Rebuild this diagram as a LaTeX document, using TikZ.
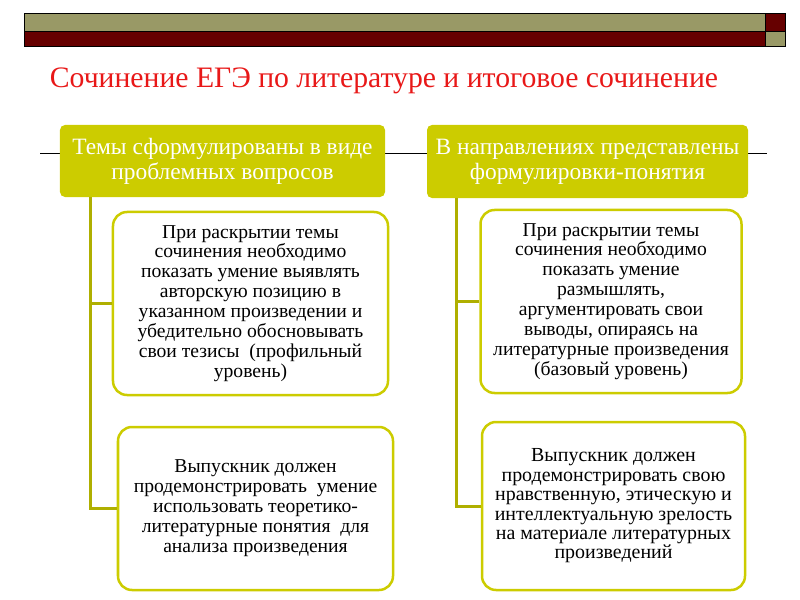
\documentclass[tikz,border=0pt]{standalone}
\usepackage{fontspec}
\setmainfont{Liberation Serif}
\usepackage{xcolor}
\definecolor{barolive}{RGB}{153,153,102}
\definecolor{bardark}{RGB}{102,0,0}
\definecolor{headfill}{RGB}{204,204,0}
\definecolor{linkolive}{RGB}{175,175,0}
\definecolor{titlered}{RGB}{232,24,24}
\usepackage{tikz}

\begin{document}
\begin{tikzpicture}[x=1bp,y=-1bp,
    head/.style={fill=headfill,rounded corners=5bp,text=white,align=center,
      inner sep=0pt,font=\fontsize{23.5}{25}\selectfont},
    item/.style={draw=headfill,line width=2.5bp,fill=white,rounded corners=14bp,
      align=center,inner sep=0pt,font=\fontsize{19.7}{20}\selectfont},
    link/.style={draw=linkolive,line width=3bp}]
    \useasboundingbox (0,0) rectangle (800,600);
    \fill[barolive] (24,13) rectangle (765,31);
    \fill[bardark] (24,31) rectangle (765,46);
    \fill[bardark] (765,13) rectangle (785,31);
    \fill[barolive] (765,31) rectangle (785,46);
    \draw[black,thin] (24,13) rectangle (765,46) (24,31) -- (785,31);
    \draw[black,thin] (765,13) rectangle (785,46);
    \node[text=titlered,anchor=base,font=\fontsize{29.8}{32}\selectfont] (title) at (384,88)
        {Сочинение ЕГЭ по литературе и итоговое сочинение};
    \coordinate (rl) at (40,153);
    \coordinate (rr) at (767,153);
    \draw[black,thin] (rl) -- (rr);
    \node[head,minimum width=325bp,minimum height=72bp] (hl) at (222.5,161)
        {Темы сформулированы в виде\\проблемных вопросов};
    \node[head,minimum width=321bp,minimum height=73bp] (hr) at (587.5,161.5)
        {В направлениях представлены\\формулировки-понятия};
    \node[item,minimum width=275bp,minimum height=183bp] (l1) at (250.5,303.5)
        {При раскрытии темы\\сочинения необходимо\\показать умение выявлять\\авторскую позицию в\\указанном произведении и\\убедительно обосновывать\\свои тезисы\ \ (профильный\\уровень)};
    \node[item,minimum width=275bp,minimum height=163bp] (l2) at (255.5,508.5)
        {Выпускник должен\\продемонстрировать\ \ умение\\использовать теоретико-\\литературные понятия\ \ для\\анализа произведения};
    \node[item,minimum width=261bp,minimum height=183bp] (r1) at (611,301.5)
        {При раскрытии темы\\сочинения необходимо\\показать умение\\размышлять,\\аргументировать свои\\выводы, опираясь на\\литературные произведения\\(базовый уровень)};
    \node[item,minimum width=263bp,minimum height=168bp,font=\fontsize{20}{19.5}\selectfont] (r2) at (613.5,506)
        {Выпускник должен\\продемонстрировать свою\\нравственную, этическую и\\интеллектуальную зрелость\\на материале литературных\\произведений};
    \coordinate (lx) at ([xshift=31bp]hl.south west);
    \coordinate (rx) at ([xshift=30bp]hr.south west);
    \draw[link] (lx) |- (l2.west);
    \draw[link] (l1.west) -- (l1.west -| lx);
    \draw[link] (rx) |- (r2.west);
    \draw[link] (r1.west) -- (r1.west -| rx);
\end{tikzpicture}
\end{document}
